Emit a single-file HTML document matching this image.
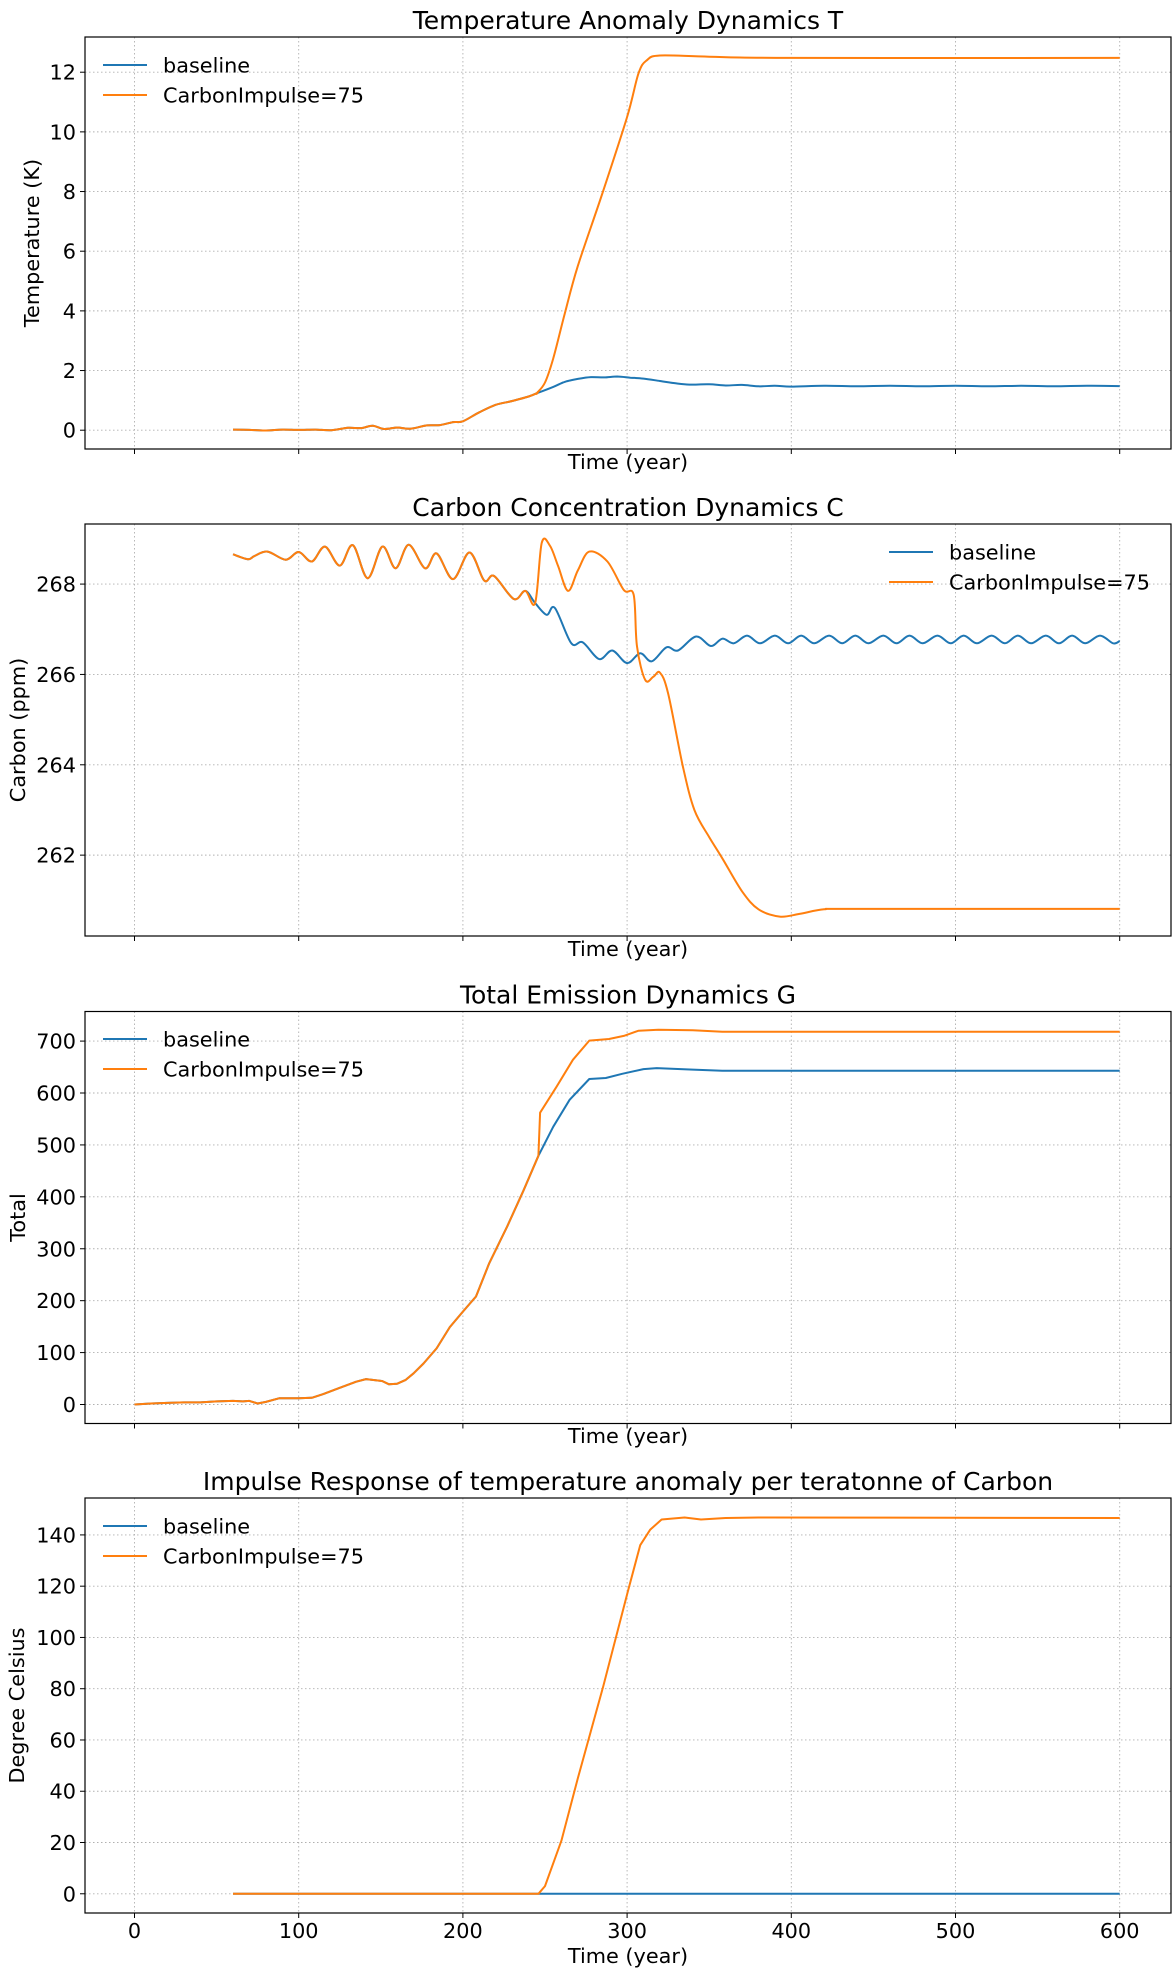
<!DOCTYPE html>
<html><head><meta charset="utf-8">
<style>
html,body{margin:0;padding:0;background:#fff;}
svg{display:block;font-family:"DejaVu Sans","Liberation Sans",sans-serif;}
</style></head>
<body>
<svg id="fig" width="1175" height="1975" viewBox="0 0 1175 1975" xmlns="http://www.w3.org/2000/svg"></svg>
<script>
// ---- data ----
const xTicks = [0,100,200,300,400,500,600];
const seriesNames = ["baseline","CarbonImpulse=75"];

// Panel 1: Temperature
const tempTicks = [0,2,4,6,8,10,12];
const tempCommon = [[60,.02],[70,.01],[80,-.01],[90,.02],[100,.01],[110,.02],[120,0],[130,.08],[138,.07],[145,.15],[152,.04],[160,.09],[168,.05],[178,.16],[186,.17],[194,.27],[200,.30],[210,.6],[220,.85],[230,.98],[240,1.13],[245,1.24]];
const tempBase = [[245,1.24],[255,1.45],[262,1.62],[270,1.72],[278,1.78],[286,1.77],[294,1.8],[302,1.76],[310,1.73],[320,1.65],[330,1.57],[338,1.53],[350,1.54],[360,1.5],[370,1.52],[380,1.47],[390,1.49],[400,1.46],[420,1.49],[440,1.47],[460,1.49],[480,1.47],[500,1.49],[520,1.47],[540,1.49],[560,1.47],[580,1.49],[600,1.48]];
const tempImp = [[245,1.24],[250,1.6],[255,2.4],[262,3.9],[270,5.5],[285,7.95],[300,10.5],[307,11.97],[312,12.4],[320,12.56],[350,12.52],[400,12.48],[600,12.48]];

// Panel 2: Carbon
const carbTicks = [262,264,266,268];
const carbCommon = [[60,268.66],[69,268.55],[73,268.62],[81,268.72],[92,268.54],[100,268.71],[108,268.5],[116,268.83],[125,268.41],[133,268.86],[142,268.13],[151,268.83],[159,268.35],[167,268.87],[177,268.35],[184,268.68],[194,268.11],[204,268.7],[213,268.08],[219,268.18],[231,267.67],[238,267.85],[244,267.58]];
const carbBase = [[251,267.32],[256,267.47],[266,266.69],[273,266.71],[283,266.34],[291,266.53],[300,266.25],[308,266.47],[315,266.29],[324,266.6],[331,266.53],[342,266.84],[351,266.63],[358,266.79],[365,266.69],[373,266.86],[381,266.69],[390,266.86],[398,266.69],[406,266.86],[414,266.69],[423,266.86],[431,266.69],[439,266.86],[447,266.69],[456,266.86],[464,266.69],[472,266.86],[480,266.69],[489,266.86],[497,266.69],[505,266.86],[513,266.69],[522,266.86],[530,266.69],[538,266.86],[546,266.69],[555,266.86],[563,266.69],[571,266.86],[579,266.69],[588,266.86],[596,266.69],[600,266.74]];
const carbImp = [[248,268.91],[253,268.85],[258,268.4],[264,267.85],[270,268.3],[277,268.72],[288,268.5],[298,267.87],[304,267.76],[306,266.62],[311,265.88],[316,265.95],[320,266.04],[325,265.58],[334,263.96],[341,263.0],[350,262.4],[358,261.93],[370,261.2],[380,260.8],[393,260.64],[405,260.7],[420,260.8],[440,260.81],[600,260.81]];

// Panel 3: Total emission
const totTicks = [0,100,200,300,400,500,600,700];
const totCommon = [[0,0],[10,2],[20,3],[30,4],[40,4],[50,6],[60,7],[66,6],[70,7],[75,2],[80,5],[88,12],[100,12],[108,13],[115,20],[124,31],[135,44],[141,49],[151,45],[155,39],[160,40],[165,47],[170,60],[176,79],[184,108],[192,149],[200,179],[208,208],[216,272],[227,343],[237,413],[246,479]];
const totBase = [[255,535],[265,587],[277,627],[287,629],[297,637],[310,646],[318,648],[340,645],[358,643],[600,643]];
const totImp = [[247,562],[257,612],[267,664],[277,701],[289,704],[298,710],[307,720],[319,722],[340,721],[358,718],[600,718]];

// Panel 4: Impulse response
const irTicks = [0,20,40,60,80,100,120,140];
const irBase = [[60,0],[600,0]];
const irImp = [[60,0],[246,0],[250,3],[260,20.7],[270,45],[285.5,81],[300.5,118],[308,136],[314,142],[321,146],[335,146.8],[345,146],[360,146.6],[380,146.8],[600,146.6]];

// ---- drawing ----
const NS="http://www.w3.org/2000/svg";
const svg=document.getElementById('fig');
function el(tag,attrs,parent){const e=document.createElementNS(NS,tag);for(const k in attrs)e.setAttribute(k,attrs[k]);(parent||svg).appendChild(e);return e;}
const L=85,R=1171,X0=134.5,XS=1.642;
const FS=20.8, TFS=25;
function xS(t){return X0+XS*t;}

const panels=[
 {name:'temperature',top:37,bot:449,ymin:-0.63,ymax:13.18,ticks:tempTicks,title:'Temperature Anomaly Dynamics T',ylabel:'Temperature (K)',ylx:32,xly:462,xticklabels:false,smooth:true,
  base:[tempCommon,tempBase],imp:[tempCommon,tempImp],legend:{x:103,y:65}},
 {name:'carbon',top:524,bot:936,ymin:260.21,ymax:269.33,ticks:carbTicks,title:'Carbon Concentration Dynamics C',ylabel:'Carbon (ppm)',ylx:18,xly:949,xticklabels:false,smooth:true,
  base:[carbCommon,carbBase],imp:[carbCommon,carbImp],legend:{x:889,y:552}},
 {name:'emission',top:1011.5,bot:1423.5,ymin:-36.6,ymax:757,ticks:totTicks,title:'Total Emission Dynamics G',ylabel:'Total',ylx:18,xly:1436,xticklabels:false,smooth:false,
  base:[totCommon,totBase],imp:[totCommon,totImp],legend:{x:103,y:1039}},
 {name:'impulse-response',top:1498,bot:1913,ymin:-7.5,ymax:154.4,ticks:irTicks,title:'Impulse Response of temperature anomaly per teratonne of Carbon',ylabel:'Degree Celsius',ylx:17,xly:1956,xticklabels:true,smooth:false,
  base:[irBase],imp:[irImp],legend:{x:103,y:1526}}
];

function buildPath(pts,smooth){
  if(!smooth||pts.length<3) return pts.map((p,i)=>(i?'L':'M')+p[0].toFixed(1)+','+p[1].toFixed(1)).join(' ');
  let d='M'+pts[0][0].toFixed(1)+','+pts[0][1].toFixed(1);
  for(let i=0;i<pts.length-1;i++){
    const p0=pts[Math.max(0,i-1)],p1=pts[i],p2=pts[i+1],p3=pts[Math.min(pts.length-1,i+2)];
    const c1x=p1[0]+(p2[0]-p0[0])/6,c1y=p1[1]+(p2[1]-p0[1])/6;
    const c2x=p2[0]-(p3[0]-p1[0])/6,c2y=p2[1]-(p3[1]-p1[1])/6;
    d+=' C'+c1x.toFixed(1)+','+c1y.toFixed(1)+' '+c2x.toFixed(1)+','+c2y.toFixed(1)+' '+p2[0].toFixed(1)+','+p2[1].toFixed(1);
  }
  return d;
}

panels.forEach(p=>{
  const g=el('g',{});
  
  
  const yS=v=>p.bot-(v-p.ymin)/(p.ymax-p.ymin)*(p.bot-p.top);
  xTicks.forEach(t=>{
    const ln=el('line',{x1:xS(t),x2:xS(t),y1:p.top,y2:p.bot,stroke:'#b0b0b0','stroke-width':0.9,'stroke-dasharray':'1.5,2.5'},g);
    
    
    const tk=el('line',{x1:xS(t),x2:xS(t),y1:p.bot,y2:p.bot+5,stroke:'#000','stroke-width':1},g);
    
    
    if(p.xticklabels){
      const tx=el('text',{x:xS(t),y:p.bot+25,'font-size':FS,'text-anchor':'middle',fill:'#000'},g);
      tx.textContent=t;
      
      
    }
  });
  p.ticks.forEach(v=>{
    const y=yS(v);
    const ln=el('line',{x1:L,x2:R,y1:y,y2:y,stroke:'#b0b0b0','stroke-width':0.9,'stroke-dasharray':'1.5,2.5'},g);
    
    
    const tk=el('line',{x1:L-5,x2:L,y1:y,y2:y,stroke:'#000','stroke-width':1},g);
    
    
    const tx=el('text',{x:L-9,y:y+7.5,'font-size':FS,'text-anchor':'end',fill:'#000'},g);
    tx.textContent=String(v);
    
    
  });
  function path(parts,color,nm){
    const pts=[];parts.forEach(a=>a.forEach(d=>pts.push([xS(d[0]),yS(d[1])])));
    const pa=el('path',{d:buildPath(pts,p.smooth),fill:'none',stroke:color,'stroke-width':2,'stroke-linejoin':'round'},g);
    
    
  }
  path(p.base,'#1f77b4','baseline-line');
  path(p.imp,'#ff7f0e','carbon-impulse-line');
  const fr=el('rect',{x:L,y:p.top,width:R-L,height:p.bot-p.top,fill:'none',stroke:'#000','stroke-width':1.2},g);
  
  
  const ti=el('text',{x:(L+R)/2,y:p.top-8,'font-size':TFS,'text-anchor':'middle',fill:'#000'},g);
  ti.textContent=p.title;
  
  
  const yc=(p.top+p.bot)/2;
  const yl=el('text',{x:p.ylx,y:yc,'font-size':FS,'text-anchor':'middle',fill:'#000',transform:`rotate(-90 ${p.ylx} ${yc})`,'dominant-baseline':'central'},g);
  yl.textContent=p.ylabel;
  
  
  const xl=el('text',{x:(L+R)/2,y:p.xly,'font-size':FS,'text-anchor':'middle',fill:'#000','dominant-baseline':'central'},g);
  xl.textContent='Time (year)';
  
  
  const lg=el('g',{},g);
  
  
  [['#1f77b4',seriesNames[0]],['#ff7f0e',seriesNames[1]]].forEach((e,i)=>{
    const y=p.legend.y+i*30;
    const en=el('g',{},lg);
    
    
    el('line',{x1:p.legend.x,x2:p.legend.x+44,y1:y,y2:y,stroke:e[0],'stroke-width':2},en);
    const tx=el('text',{x:p.legend.x+60,y:y+7.5,'font-size':FS,fill:'#000'},en);
    tx.textContent=e[1];
  });
});
</script>
</body></html>
